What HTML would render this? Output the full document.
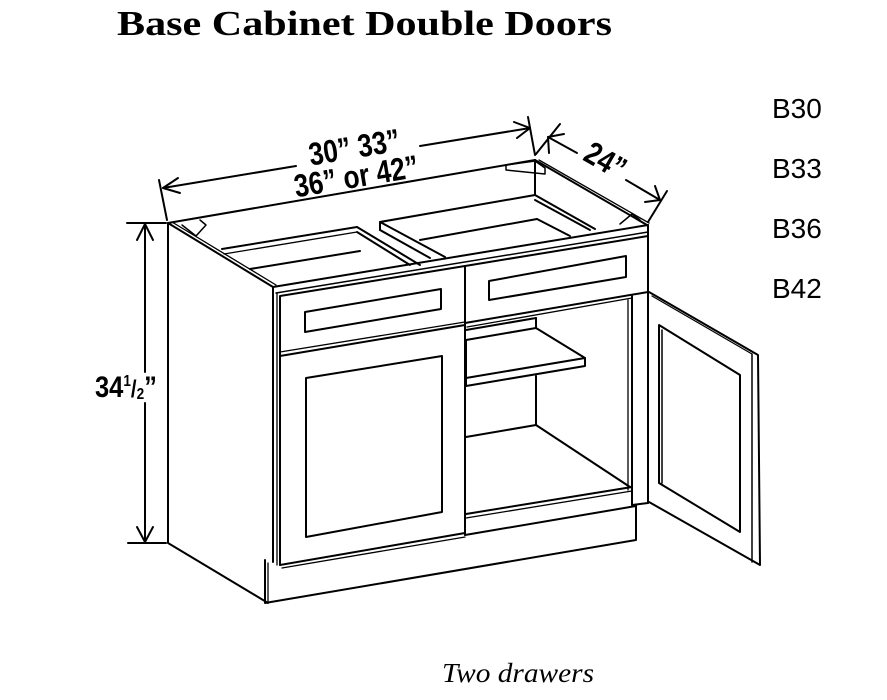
<!DOCTYPE html>
<html><head><meta charset="utf-8"><style>
html,body{margin:0;padding:0;background:#fff;}
svg{display:block;}
</style></head><body>
<svg width="887" height="700" viewBox="0 0 887 700" xmlns="http://www.w3.org/2000/svg">
<rect width="887" height="700" fill="#fff"/>
<text x="117" y="35" font-family="Liberation Serif, serif" font-weight="bold" font-size="35" textLength="495" lengthAdjust="spacingAndGlyphs">Base Cabinet Double Doors</text>
<g font-family="Liberation Sans, sans-serif" font-size="28" fill="#000">
<text x="772" y="118">B30</text>
<text x="772" y="178">B33</text>
<text x="772" y="238">B36</text>
<text x="772" y="298">B42</text>
</g>
<text x="442" y="682" font-family="Liberation Serif, serif" font-style="italic" font-size="27" textLength="152" lengthAdjust="spacingAndGlyphs">Two drawers</text>

<g stroke="#000" stroke-width="2" fill="none" stroke-linejoin="round" stroke-linecap="round">
<line x1="145" y1="224" x2="145" y2="372"/>
<line x1="145" y1="403" x2="145" y2="542"/>
<line x1="127" y1="223" x2="166" y2="223"/>
<line x1="128" y1="543" x2="166" y2="543"/>
<polyline points="137,240 145,224 153,240"/>
<polyline points="137,527 145,542 153,527"/>
<line x1="163" y1="188" x2="296" y2="166"/>
<line x1="420" y1="146" x2="530" y2="128"/>
<line x1="159" y1="180" x2="167" y2="220"/>
<line x1="528" y1="117" x2="535" y2="155"/>
<polyline points="178,178 163,188 180,193"/>
<polyline points="514,122 530,128 517,138"/>
<line x1="548" y1="137" x2="577" y2="153"/>
<line x1="626" y1="180" x2="660" y2="200"/>
<line x1="536" y1="154" x2="560" y2="124"/>
<line x1="667" y1="191" x2="648" y2="222"/>
<polyline points="549,153 548,137 564,134"/>
<polyline points="645,202 660,200 655,186"/>

<polyline points="168,223 168,543 268,603"/>
<line x1="168" y1="223" x2="273" y2="287"/>
<line x1="172" y1="222" x2="276" y2="285" stroke-width="1.3"/>
<line x1="168" y1="223" x2="535" y2="160"/>
<line x1="535" y1="160" x2="647" y2="225"/>
<line x1="539" y1="160" x2="649" y2="223" stroke-width="1.3"/>
<polygon points="506,165 535,161 545,168 545,174 506,170" stroke-width="1.5"/>
<line x1="535" y1="160" x2="535" y2="195"/>
<line x1="273" y1="287" x2="648" y2="225"/>
<line x1="276" y1="293" x2="648" y2="232" stroke-width="1.5"/>
<polyline points="182,225 196,236 206,225 200,220" stroke-width="1.5"/>
<polyline points="620,224 632,214 640,220" stroke-width="1.5"/>
<line x1="222" y1="249" x2="357" y2="227"/>
<line x1="224" y1="254" x2="357" y2="232" stroke-width="1.3"/>
<line x1="357" y1="227" x2="420" y2="265"/>
<line x1="357" y1="232" x2="410" y2="265"/>
<line x1="250" y1="269" x2="360" y2="251"/>
<polyline points="380,230 380,222 535,195 595,229"/>
<line x1="380" y1="222" x2="445" y2="257"/>
<line x1="380" y1="230" x2="430" y2="258"/>
<line x1="535" y1="200" x2="590" y2="230"/>
<line x1="420" y1="240" x2="537" y2="219"/>
<line x1="537" y1="219" x2="570" y2="236"/>
<line x1="273" y1="287" x2="273" y2="562"/>
<line x1="277" y1="293" x2="277" y2="565" stroke-width="1.3"/>
<line x1="648" y1="225" x2="648" y2="292"/>
<polyline points="280,565 280,296 465,266"/>
<line x1="280" y1="356" x2="465" y2="325"/>
<line x1="280" y1="352" x2="465" y2="322" stroke-width="1.3"/>
<polygon points="305,312 441,289 441,309 305,332"/>
<line x1="465" y1="266" x2="648" y2="236"/>
<line x1="465" y1="266" x2="465" y2="535"/>
<polygon points="489,281 626,256 626,277 489,300"/>
<line x1="465" y1="323" x2="648" y2="292"/>
<line x1="467" y1="327" x2="632" y2="298" stroke-width="1.3"/>
<polygon points="306,378 442,356 442,512 306,537"/>
<line x1="280" y1="565" x2="465" y2="533"/>
<line x1="282" y1="568" x2="465" y2="537" stroke-width="1.3"/>
<line x1="632" y1="296" x2="632" y2="505"/>
<line x1="628" y1="300" x2="628" y2="490" stroke-width="1.3"/>
<line x1="648" y1="292" x2="648" y2="503"/>
<line x1="632" y1="505" x2="648" y2="503"/>
<line x1="466" y1="330" x2="536" y2="318"/>
<line x1="536" y1="318" x2="536" y2="328"/>
<polygon points="466,340 536,328 585,358 585,366 466,386"/>
<line x1="466" y1="378" x2="585" y2="358"/>
<line x1="536" y1="376" x2="536" y2="425"/>
<line x1="466" y1="437" x2="536" y2="425"/>
<line x1="536" y1="425" x2="630" y2="487"/>
<line x1="466" y1="514" x2="632" y2="487"/>
<line x1="466" y1="518" x2="632" y2="491" stroke-width="1.3"/>
<polyline points="265,560 265,603 636,540 636,506"/>
<line x1="268" y1="563" x2="268" y2="603" stroke-width="1.3"/>
<line x1="465" y1="535" x2="636" y2="506"/>
<polyline points="649,292 758,355 760,565 649,502"/>
<line x1="652" y1="296" x2="752" y2="354" stroke-width="1.3"/>
<line x1="752" y1="354" x2="752" y2="562" stroke-width="1.5"/>
<polygon points="659,325 740,375 740,532 659,483"/>
<line x1="662" y1="330" x2="662" y2="483" stroke-width="1.5"/>
</g>

<g font-family="Liberation Sans, sans-serif" font-weight="bold" fill="#000">
<text transform="translate(356,158) rotate(-9.5) scale(0.82,1)" font-size="32" text-anchor="middle">30” 33”</text>
<text transform="translate(358,187) rotate(-9.5) scale(0.82,1)" font-size="32" text-anchor="middle">36” or 42”</text>
<text transform="translate(600,170) rotate(30) scale(0.82,1)" font-size="32" text-anchor="middle">24”</text>
<text transform="translate(95,397) scale(0.85,1)" font-size="30">34<tspan font-size="16" dy="-11">1</tspan><tspan font-size="24" dy="11">/</tspan><tspan font-size="16" dy="2">2</tspan><tspan dy="-2">”</tspan></text>
</g>
</svg>
</body></html>
